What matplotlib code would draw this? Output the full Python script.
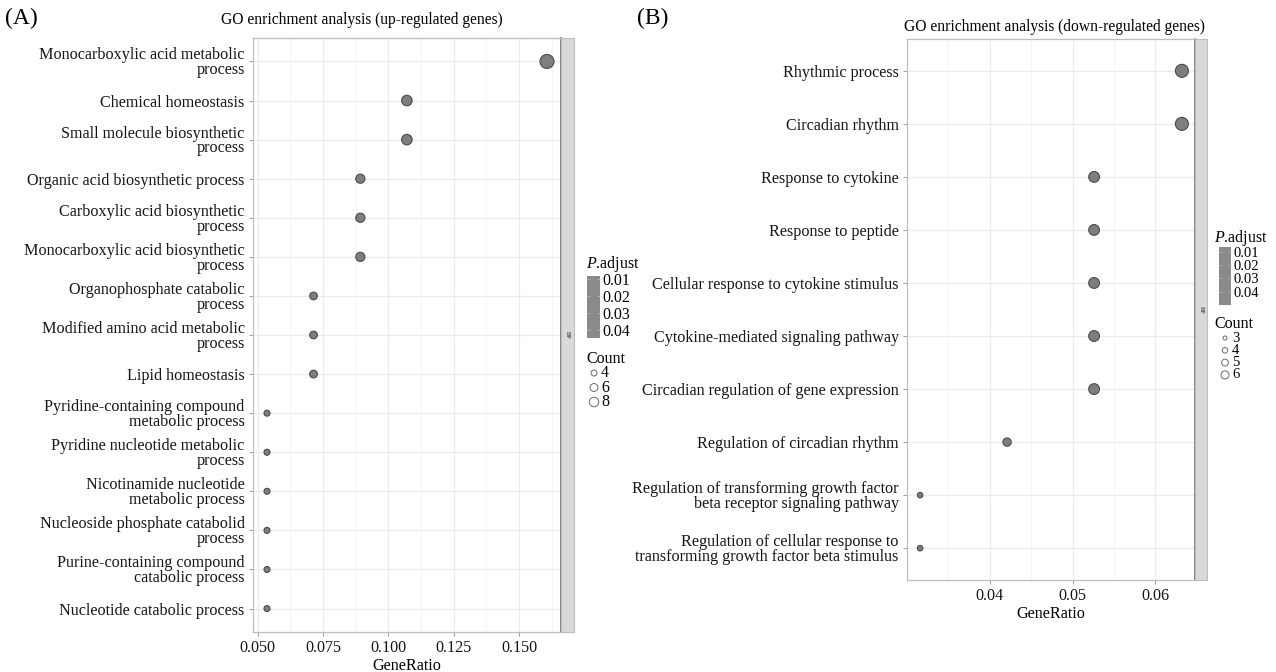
import matplotlib
matplotlib.use("Agg")
import matplotlib.pyplot as plt
import matplotlib.colors as mcolors
import matplotlib.colorbar as mcolorbar
import numpy as np

# ---- data: panel A (up-regulated) ----
terms_up = ["Monocarboxylic acid metabolic\nprocess",
            "Chemical homeostasis",
            "Small molecule biosynthetic\nprocess",
            "Organic acid biosynthetic process",
            "Carboxylic acid biosynthetic\nprocess",
            "Monocarboxylic acid biosynthetic\nprocess",
            "Organophosphate catabolic\nprocess",
            "Modified amino acid metabolic\nprocess",
            "Lipid homeostasis",
            "Pyridine-containing compound\nmetabolic process",
            "Pyridine nucleotide metabolic\nprocess",
            "Nicotinamide nucleotide\nmetabolic process",
            "Nucleoside phosphate catabolid\nprocess",
            "Purine-containing compound\ncatabolic process",
            "Nucleotide catabolic process"]
ratio_up = [0.1607, 0.1071, 0.1071, 0.0893, 0.0893, 0.0893, 0.0714, 0.0714,
            0.0714, 0.0536, 0.0536, 0.0536, 0.0536, 0.0536, 0.0536]
count_up = [9, 6, 6, 5, 5, 5, 4, 4, 4, 3, 3, 3, 3, 3, 3]
xticks_up = [0.050, 0.075, 0.100, 0.125, 0.150]
xticklabels_up = ["0.050", "0.075", "0.100", "0.125", "0.150"]
count_leg_up = [4, 6, 8]

# ---- data: panel B (down-regulated) ----
terms_down = ["Rhythmic process",
              "Circadian rhythm",
              "Response to cytokine",
              "Response to peptide",
              "Cellular response to cytokine stimulus",
              "Cytokine-mediated signaling pathway",
              "Circadian regulation of gene expression",
              "Regulation of circadian rhythm",
              "Regulation of transforming growth factor\nbeta receptor signaling pathway",
              "Regulation of cellular response to\ntransforming growth factor beta stimulus"]
ratio_down = [0.0632, 0.0632, 0.0526, 0.0526, 0.0526, 0.0526, 0.0526, 0.0421,
              0.0316, 0.0316]
count_down = [6, 6, 5, 5, 5, 5, 5, 4, 3, 3]
xticks_down = [0.04, 0.05, 0.06]
xticklabels_down = ["0.04", "0.05", "0.06"]
count_leg_down = [3, 4, 5, 6]

padj_ticks = [0.01, 0.02, 0.03, 0.04]

FONT = "Liberation Serif"
plt.rcParams.update({'font.family': FONT, 'font.size': 11,
                     'mathtext.fontset': 'custom',
                     'mathtext.it': FONT + ':italic',
                     'mathtext.rm': FONT})

W, H = 1276, 672
fig = plt.figure(figsize=(W / 100, H / 100), dpi=100)

def box(l, t, r, b):
    # pixel box -> figure fraction
    return [l / W, 1 - b / H, (r - l) / W, (b - t) / H]

GRID = '#EBEBEB'
DOT = '#7e7e7e'
EDGE = '#4a4a4a'

def diam(c, cmin, cmax, dmin, dmax):
    s = (np.sqrt(c) - np.sqrt(cmin)) / (np.sqrt(cmax) - np.sqrt(cmin))
    return dmin + (dmax - dmin) * s

def panel(rect, strip_rect, terms, ratio, count, xt, xtl, title, title_xy, dmin, dmax):
    ax = fig.add_axes(rect)
    n = len(terms)
    y = np.arange(n)[::-1]
    cmin, cmax = min(count), max(count)
    d = [diam(c, cmin, cmax, dmin, dmax) for c in count]
    ax.scatter(ratio, y, s=[(0.72 * v) ** 2 for v in d], c=DOT,
               edgecolors=EDGE, linewidths=0.8, zorder=3)
    ax.set_yticks(y)
    ax.set_yticklabels(terms, linespacing=0.9, fontsize=11.6)
    ax.set_xticks(xt)
    ax.set_xticklabels(xtl, fontsize=11.6)
    step = xt[1] - xt[0]
    mids = [xt[0] - step / 2] + [v + step / 2 for v in xt]
    ax.set_xticks(mids, minor=True)
    # limits after ticks (ggplot style 5% expansion)
    lo, hi = min(ratio), max(ratio)
    pad = (hi - lo) * 0.05
    ax.set_xlim(lo - pad, hi + pad)
    ax.set_ylim(-0.6, n - 0.4)
    ax.grid(True, which='major', color=GRID, lw=0.9, zorder=0)
    ax.grid(True, which='minor', axis='x', color='#F3F3F3', lw=0.6, zorder=0)
    ax.tick_params(which='major', length=3, width=0.6, color='#8a8a8a',
                   pad=3, labelcolor='#151515')
    ax.tick_params(which='minor', length=0)
    for s in ax.spines.values():
        s.set_color('#BDBDBD')
        s.set_linewidth(0.9)
    ax.spines['right'].set_color('#6e6e6e')
    ax.spines['right'].set_linewidth(1.2)
    ax.set_axisbelow(True)
    ax.set_xlabel("GeneRatio", fontsize=11.6, labelpad=1)
    # facet strip
    sax = fig.add_axes(strip_rect)
    sax.set_xticks([]); sax.set_yticks([])
    sax.set_facecolor('#D9D9D9')
    for s in sax.spines.values():
        s.set_color('#BDBDBD'); s.set_linewidth(0.8)
    sax.text(0.5, 0.5, "BP", rotation=270, ha='center', va='center',
             fontsize=4.5, color='#1a1a1a', transform=sax.transAxes)
    tx, ty = title_xy
    fig.text(tx / W, 1 - ty / H, title, ha='center', va='center', fontsize=11.2)
    return ax

def legend(cb_rect, cb_lims, ptitle_xy, count_xy, circ_x, circ_y0, circ_dy,
           counts, dmin, dmax, lab_fs):
    px, py = ptitle_xy
    fig.text(px / W, 1 - py / H, r"$\it{P}$.adjust", ha='left', va='center', fontsize=11.5)
    cax = fig.add_axes(cb_rect)
    cmap = mcolors.ListedColormap(['#8a8a8a'])
    cb = mcolorbar.ColorbarBase(cax, cmap=cmap,
                                norm=mcolors.Normalize(cb_lims[0], cb_lims[1]),
                                orientation='vertical')
    cb.outline.set_visible(False)
    cax.invert_yaxis()
    cb.set_ticks(padj_ticks)
    cb.set_ticklabels(["%.2f" % v for v in padj_ticks])
    cax.tick_params(direction='in', length=2.5, width=0.5, color='#bfbfbf',
                    pad=1.5, labelsize=lab_fs, left=True, right=True)
    cx_, cy_ = count_xy
    fig.text(cx_ / W, 1 - cy_ / H, "Count", ha='left', va='center', fontsize=11.5)
    lax = fig.add_axes([0, 0, 1, 1], facecolor='none')
    lax.set_xlim(0, W); lax.set_ylim(H, 0); lax.axis('off')
    cmin, cmax = min(counts), max(counts)
    ys = [circ_y0 + i * circ_dy for i in range(len(counts))]
    d = [diam(c, cmin, cmax, dmin, dmax) for c in counts]
    lax.scatter([circ_x] * len(counts), ys, s=[(0.72 * v) ** 2 for v in d],
                facecolors='white', edgecolors='#6a6a6a', linewidths=0.7)
    for c, yy in zip(counts, ys):
        lax.text(circ_x + 7, yy, str(c), ha='left', va='center', fontsize=lab_fs)

# panel A
panel(box(253, 38, 561, 632), box(561, 38, 574, 632), terms_up, ratio_up, count_up,
      xticks_up, xticklabels_up, "GO enrichment analysis (up-regulated genes)",
      (362, 20), 6, 14)
# panel B
panel(box(907, 39, 1195, 580), box(1195, 39, 1207, 580), terms_down, ratio_down,
      count_down, xticks_down, xticklabels_down,
      "GO enrichment analysis (down-regulated genes)", (1054, 27), 5.5, 13)

legend(box(587, 276, 600, 338), (0.0083, 0.0444), (586, 264), (586, 359),
       594, 373, 14.5, count_leg_up, 6, 9.5, 11.5)
legend(box(1219, 247, 1231, 305), (0.0060, 0.0503), (1214, 238), (1214, 324),
       1225, 338, 12.3, count_leg_down, 4, 8, 10.5)

fig.text(5 / W, 1 - 18 / H, "(A)", ha='left', va='center', fontsize=17)
fig.text(637 / W, 1 - 18 / H, "(B)", ha='left', va='center', fontsize=17)

fig.savefig("out.png", dpi=100)
